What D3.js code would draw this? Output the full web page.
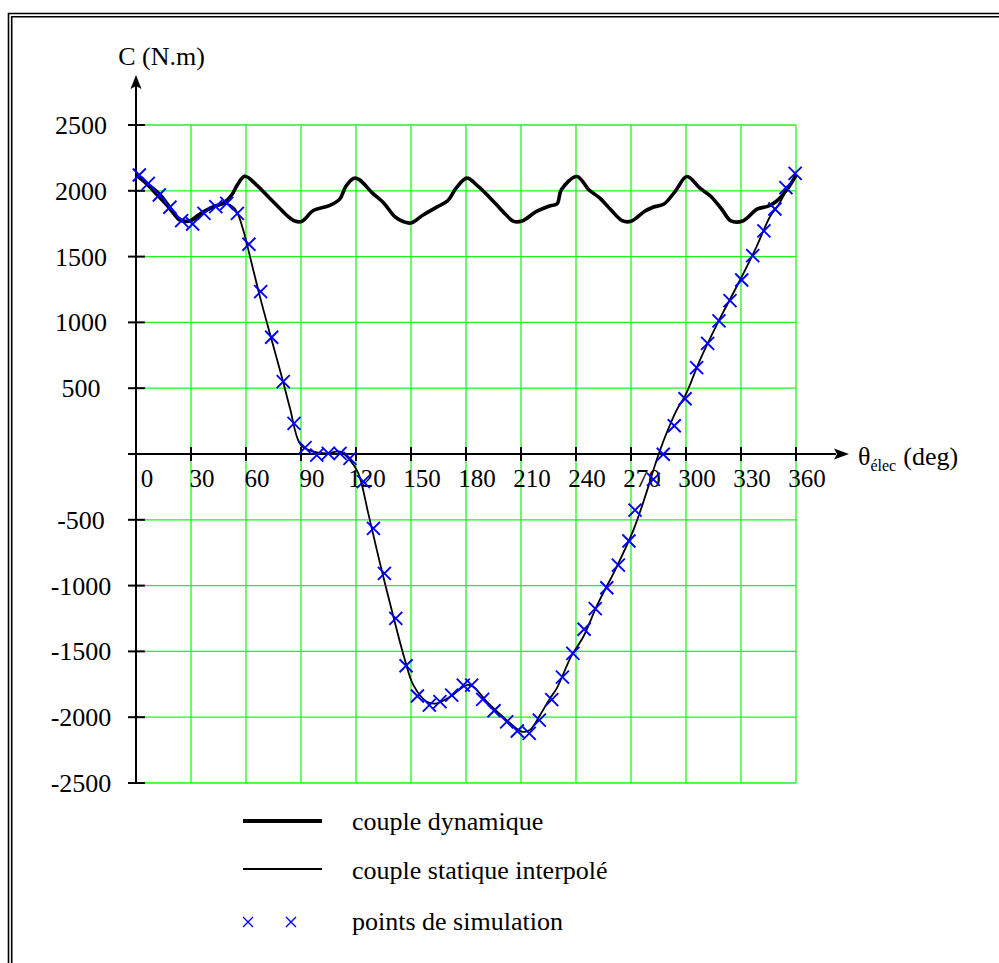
<!DOCTYPE html>
<html><head><meta charset="utf-8">
<script src="https://cdn.jsdelivr.net/npm/d3@7"></script>
<style>body{margin:0;background:#fff}svg{display:block}text{font-family:"Liberation Serif","Times New Roman",serif;fill:#000}</style>
</head><body><svg id="c" width="999" height="963"></svg>
<script>
// ---- data ----
const xTicks = [30,60,90,120,150,180,210,240,270,300,330,360];
const xTickLabels = ["0","30","60","90","120","150","180","210","240","270","300","330","360"];
const xLabelValues = [0,30,60,90,120,150,180,210,240,270,300,330,360];
const yTicks = [2500,2000,1500,1000,500,-500,-1000,-1500,-2000,-2500];
const yTickLabels = ["2500","2000","1500","1000","500","-500","-1000","-1500","-2000","-2500"];

// couple dynamique (thick)
const dynAngle = [0,5.4,11.5,17.5,23.6,26.5,29.6,35.6,41.7,47.7,52.3,55.3,59.3,65.8,73.2,79.5,84,87,90.5,96.7,105,111,114.5,119,122,129,135,141,146,150,156.6,164,170,174.6,180.5,186.7,195.8,201.8,206,210.5,218.5,226,229.7,232,240.5,247,253,259,265.2,270,277.3,282,288,294,300.5,307.6,313.6,319.7,324.5,331,339,344.5,349,354.9,360];
const dynValue = [2121,2058,1970,1881,1780,1768,1773,1831,1876,1907,1970,2045,2110,2044,1940,1851,1793,1768,1768,1850,1885,1935,2035,2096,2083,1982,1910,1806,1765,1755,1816,1876,1924,2020,2096,2033,1907,1818,1768,1770,1843,1886,1901,2008,2109,2008,1944,1856,1773,1768,1843,1875,1900,1994,2109,2020,1957,1856,1771,1771,1862,1882,1917,2006,2120];

// couple statique interpolé (thin)
const statAngle = [0,13.1,24,29.5,36.7,43.1,49.5,53.1,55.8,59.5,62.2,67.6,74,80,84,89.8,96.7,104,111.3,116.7,121.3,126.7,133.1,140.4,146.7,151.3,158.6,164,171.3,180.4,184,191.3,202.2,210.4,214.9,220.4,225.8,229.5,237.5,244,251.5,262.2,271.3,277.7,284,288.6,294.9,299.5,307.6,316.7,329.5,338.5,345.8,350.4,354.9,360];
const statValue = [2120,1981,1791,1766,1829,1875,1900,1875,1816,1651,1499,1196,866,562,347,70,18,5,18,-46,-147,-451,-831,-1236,-1566,-1756,-1882,-1895,-1845,-1756,-1768,-1882,-2022,-2110,-2098,-1984,-1857,-1781,-1534,-1389,-1150,-857,-578,-324,-46,131,334,441,714,980,1322,1576,1803,1892,2006,2120];

// points de simulation (crosses)
const simAngle = [1.8,6.7,12.7,18.5,24.9,30.9,37.1,43.5,49.5,55.3,61.6,68,74,80.3,86.2,92.2,98.6,104.9,111.3,116.7,124,129.5,135.5,141.7,147.3,153.5,160,165.8,172.2,178.5,183.1,189.1,195.3,202.2,208,214.5,220,226.8,232.6,238.3,244.4,250.5,256.8,263.1,268.9,272.2,282.2,287.6,293.6,299.5,305.8,311.8,318,324,330.4,336.4,342.5,348.5,354.5,359.5];
const simValue = [2120,2057,1968,1875,1773,1748,1829,1880,1905,1829,1594,1234,887,550,233,48,-8,5,5,-33,-210,-565,-907,-1249,-1609,-1839,-1908,-1882,-1832,-1756,-1756,-1864,-1951,-2035,-2105,-2123,-2022,-1867,-1696,-1515,-1332,-1175,-1016,-844,-661,-426,-193,-2,215,420,656,841,1011,1165,1322,1507,1695,1862,2024,2133];

const legendLabels = ["couple dynamique","couple statique interpolé","points de simulation"];

// ---- drawing ----
const svg = d3.select("#c");
svg.append("rect").attr("width",999).attr("height",963).attr("fill","#fff");

// frame (double line, left & top)
const frame = svg.append("g").attr("stroke","#000").attr("stroke-width",1.6).attr("fill","none");
frame.append("path").attr("d","M8.5,963 V13.5 H999");
frame.append("path").attr("d","M11.7,963 V16.7 H999");

const x = d3.scaleLinear().domain([0,360]).range([136,796]);
const y = d3.scaleLinear().domain([-2500,2500]).range([783,125]);

// grid
const grid = svg.append("g").attr("stroke","#1ef51e").attr("stroke-width",1.3);
grid.selectAll("line.v").data(xTicks).join("line")
  .attr("x1",d=>x(d)).attr("x2",d=>x(d)).attr("y1",y(2500)).attr("y2",y(-2500));
grid.selectAll("line.h").data(yTicks).join("line")
  .attr("x1",x(0)).attr("x2",x(360)).attr("y1",d=>y(d)).attr("y2",d=>y(d));

// axes
const ax = svg.append("g").attr("stroke","#000").attr("stroke-width",2);
ax.append("line").attr("x1",x(0)).attr("x2",x(0)).attr("y1",86).attr("y2",y(-2500));
ax.append("line").attr("x1",x(0)-8).attr("x2",836).attr("y1",y(0)).attr("y2",y(0));
svg.append("path").attr("d",`M${x(0)},75 L${x(0)+5.5},89 L${x(0)},86 L${x(0)-5.5},89 Z`).attr("fill","#000");
svg.append("path").attr("d",`M849,${y(0)} L834,${y(0)-5.5} L837,${y(0)} L834,${y(0)+5.5} Z`).attr("fill","#000");
ax.selectAll("line.yt").data(yTicks).join("line")
  .attr("x1",x(0)-8).attr("x2",x(0)+9).attr("y1",d=>y(d)).attr("y2",d=>y(d));
ax.selectAll("line.xt").data(xTicks).join("line")
  .attr("x1",d=>x(d)).attr("x2",d=>x(d)).attr("y1",y(0)-7).attr("y2",y(0)+7);

// tick labels
svg.append("g").selectAll("text").data(yTicks).join("text")
  .attr("x",81).attr("y",d=>y(d)+9).attr("text-anchor","middle").attr("font-size",26)
  .text((d,i)=>yTickLabels[i]);
svg.append("g").selectAll("text").data(xLabelValues).join("text")
  .attr("x",d=>x(d)+11).attr("y",y(0)+33).attr("text-anchor","middle").attr("font-size",25)
  .text((d,i)=>xTickLabels[i]);

// axis titles
svg.append("text").attr("x",161.5).attr("y",65).attr("text-anchor","middle").attr("font-size",26).text("C (N.m)");
const xt = svg.append("text").attr("x",858).attr("y",465).attr("font-size",26);
xt.append("tspan").text("θ");
xt.append("tspan").attr("font-size",16).attr("dy",6).text("élec");
xt.append("tspan").attr("dy",-6).attr("dx",7).text("(deg)");

// curves
const line = d3.line().x(d=>x(d[0])).y(d=>y(d[1])).curve(d3.curveCatmullRom.alpha(0.5));
svg.append("path").datum(statAngle.map((a,i)=>[a,statValue[i]]))
  .attr("d",line).attr("fill","none").attr("stroke","#000").attr("stroke-width",1.8);
svg.append("path").datum(dynAngle.map((a,i)=>[a,dynValue[i]]))
  .attr("d",line).attr("fill","none").attr("stroke","#000").attr("stroke-width",3.6).attr("stroke-linejoin","round");

// crosses
const cs = 6.5;
svg.append("g").attr("stroke","#0000ff").attr("stroke-width",1.9).selectAll("path")
  .data(simAngle.map((a,i)=>[a,simValue[i]])).join("path")
  .attr("d",d=>{const px=x(d[0]),py=y(d[1]);return `M${px-cs},${py-cs}L${px+cs},${py+cs}M${px-cs},${py+cs}L${px+cs},${py-cs}`;});

// legend
const lg = svg.append("g");
lg.append("line").attr("x1",243).attr("x2",322).attr("y1",821).attr("y2",821).attr("stroke","#000").attr("stroke-width",4);
lg.append("line").attr("x1",243).attr("x2",322).attr("y1",869).attr("y2",869).attr("stroke","#000").attr("stroke-width",2);
[248,291].forEach(px=>{
  const py=922,s=5;
  lg.append("path").attr("d",`M${px-s},${py-s}L${px+s},${py+s}M${px-s},${py+s}L${px+s},${py-s}`).attr("stroke","#0000ff").attr("stroke-width",1.4);
});
lg.selectAll("text").data(legendLabels).join("text")
  .attr("x",352).attr("y",(d,i)=>[830,879,930][i]).attr("font-size",26).text(d=>d);
</script></body></html>
